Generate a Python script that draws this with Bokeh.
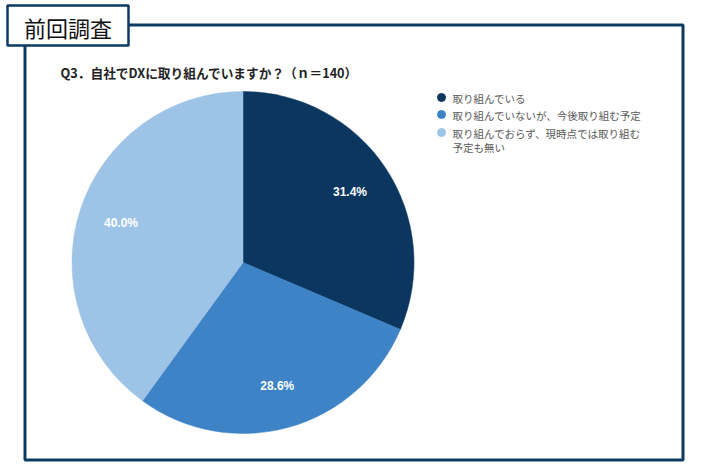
import math
from bokeh.plotting import figure
from bokeh.models import Range1d, ColumnDataSource
from bokeh.core.properties import value
from bokeh.embed import file_html
from bokeh.resources import INLINE

# ---- data ----
categories = ["取り組んでいる", "取り組んでいないが、今後取り組む予定", "取り組んでおらず、現時点では取り組む\n予定も無い"]
shares = [31.4, 28.6, 40.0]
labels = ["31.4%", "28.6%", "40.0%"]
colors = ["#0b3660", "#3d83c6", "#9dc3e6"]
title_text = "前回調査"
question_text = "Q3．自社でDXに取り組んでいますか？（ｎ＝140）"

W, H = 694, 464
p = figure(width=W, height=H, output_backend="svg", toolbar_location=None,
           x_range=Range1d(0, W), y_range=Range1d(0, H),
           min_border=0, outline_line_color=None)
p.axis.visible = False
p.grid.visible = False
p.background_fill_color = "white"
p.border_fill_color = "white"

def Y(sy):
    return H - sy

navy = "#0b3a62"

# outer frame
p.rect(x=(24.5 + 682.5) / 2, y=Y((24.5 + 459.5) / 2), width=682.5 - 24.5, height=459.5 - 24.5,
       fill_color=None, line_color=navy, line_width=3)

# pie
cx, cy, r = 242.5, Y(262), 171
total = sum(shares)
starts, ends, lx, ly = [], [], [], []
cum = 0.0
for s in shares:
    a0 = math.pi / 2 - 2 * math.pi * cum / total
    cum += s
    a1 = math.pi / 2 - 2 * math.pi * cum / total
    starts.append(a0)
    ends.append(a1)
    mid = (a0 + a1) / 2
    lx.append(cx + 0.75 * r * math.cos(mid))
    ly.append(cy + 0.75 * r * math.sin(mid))

src = ColumnDataSource(dict(start=starts, end=ends, color=colors, lx=lx, ly=ly, label=labels))
p.wedge(x=cx, y=cy, radius=r, start_angle="start", end_angle="end", direction="clock",
        fill_color="color", line_color="color", line_width=0.5, source=src)
p.text(x="lx", y="ly", text="label", source=src, text_color="white",
       text_font=value("Liberation Sans"), text_font_size="12px", text_font_style="bold",
       text_align="center", text_baseline="middle")

# question title
p.text(x=[60], y=[Y(72)], text=[question_text], text_color="#222222",
       text_font=value("Noto Sans CJK JP"), text_font_size="12.7px", text_font_style="bold",
       text_align="left", text_baseline="middle")

# legend
leg_y = [97, 114, 132]
p.scatter(x=[441] * 3, y=[Y(v) for v in leg_y], size=8, marker="circle",
          fill_color=colors, line_color=colors)
p.text(x=[452] * 3, y=[Y(v) for v in leg_y], text=categories, text_color="#595959",
       text_font=value("Noto Sans CJK JP"), text_font_size="10.5px",
       text_align="left", text_baseline="top", y_offset=-7, text_line_height=0.95)

# title box
p.rect(x=(7 + 128) / 2, y=Y(25), width=121, height=40, fill_color="white",
       line_color=navy, line_width=2.5)
p.text(x=[67.5], y=[Y(26)], text=[title_text], text_color="#111111",
       text_font=value("Noto Sans CJK JP"), text_font_size="22px",
       text_align="center", text_baseline="middle")

open("out.html", "w").write(file_html(p, INLINE))
